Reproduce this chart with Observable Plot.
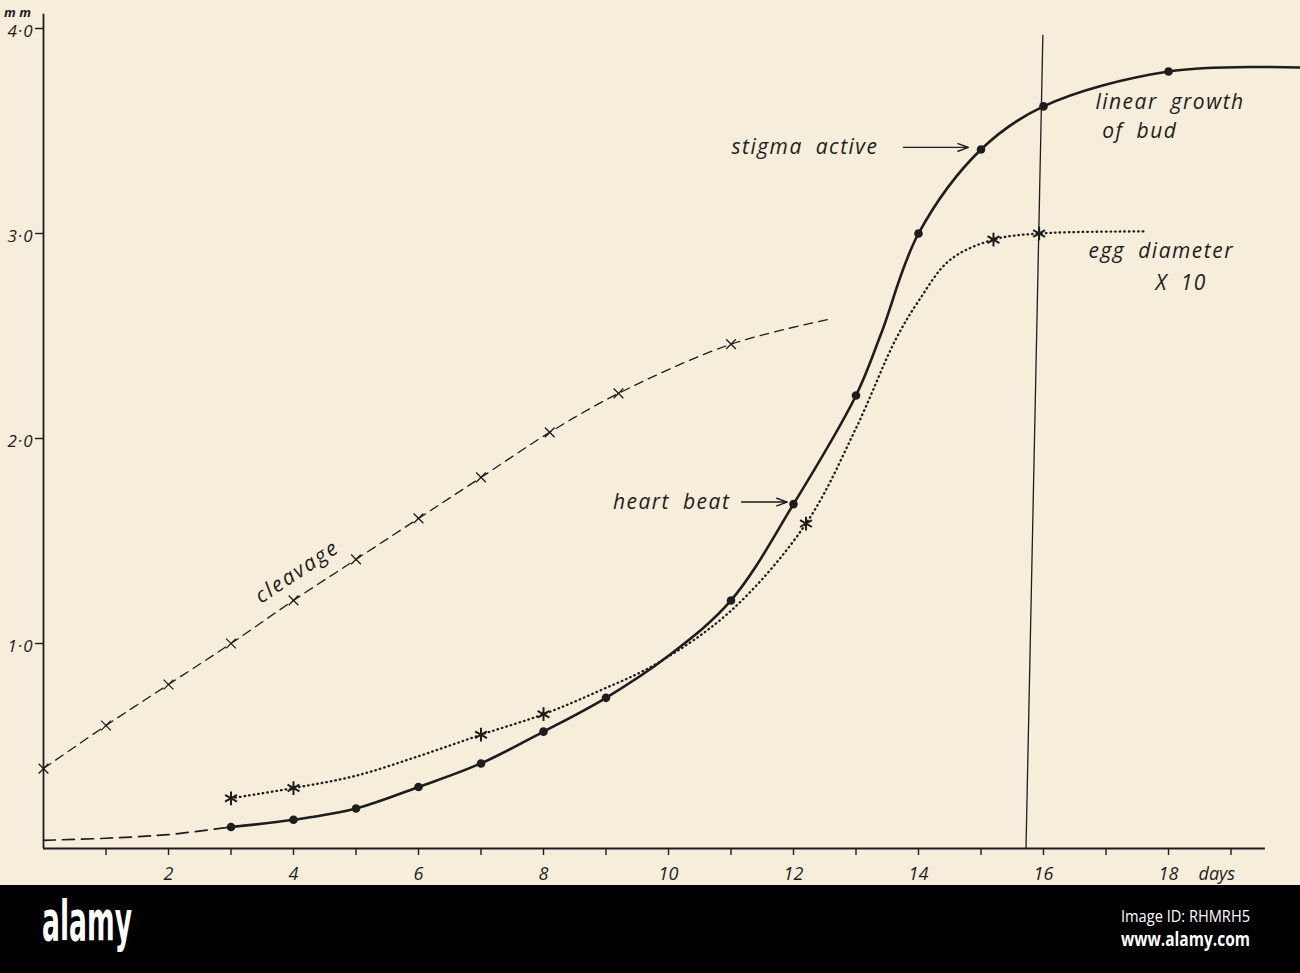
<!DOCTYPE html>
<html>
<head>
<meta charset="utf-8">
<script src="https://cdn.jsdelivr.net/npm/d3@7"></script>
<script src="https://cdn.jsdelivr.net/npm/@observablehq/plot@0.6"></script>
<style>
  html, body { margin: 0; padding: 0; background: #f6eedb; }
  #chart { width: 1300px; height: 885px; overflow: hidden; }
  #band { width: 1300px; height: 88px; background: #000; }
</style>
</head>
<body>
<div id="chart"></div>
<div id="band">
  <svg width="1300" height="88" xmlns="http://www.w3.org/2000/svg">
    <text x="42" y="55" fill="#fff" font-family="'DejaVu Sans Condensed','Liberation Sans Narrow','DejaVu Sans',sans-serif" font-weight="bold" font-size="56" textLength="90" lengthAdjust="spacingAndGlyphs">alamy</text>
    <text x="1250" y="37" fill="#fff" text-anchor="end" font-family="'Open Sans','DejaVu Sans',sans-serif" font-size="17" textLength="129" lengthAdjust="spacingAndGlyphs">Image ID: RHMRH5</text>
    <text x="1250" y="61" fill="#fff" text-anchor="end" font-family="'Open Sans','DejaVu Sans',sans-serif" font-weight="bold" font-size="19" textLength="129" lengthAdjust="spacingAndGlyphs">www.alamy.com</text>
  </svg>
</div>
<script>
// ---- data (days, mm) ----
// linear growth of bud (solid line, filled dots)
const budDays = [3, 4, 5, 6, 7, 8, 9, 11, 12, 13, 14, 15, 16, 18];
const budMM   = [0.105, 0.14, 0.195, 0.30, 0.415, 0.57, 0.735, 1.21, 1.68, 2.21, 3.0, 3.41, 3.62, 3.79];
// points (dots drawn only at budDays)
const budCurveDays = [3, 4, 5, 6, 7, 8, 9, 10, 11, 12, 13, 13.4, 14, 15, 16, 18, 20.11];
const budCurveMM   = [0.105, 0.14, 0.195, 0.30, 0.415, 0.57, 0.735, 0.94, 1.21, 1.68, 2.21, 2.51, 3.0, 3.41, 3.62, 3.79, 3.81];
// dashed lead-in of the bud curve
const leadDays = [0, 1, 2, 3];
const leadMM   = [0.04, 0.05, 0.068, 0.105];
// cleavage (dashed, x marks)
const cleavageDays = [0, 1, 2, 3, 4, 5, 6, 7, 8.1, 9.2, 11.0];
const cleavageMM   = [0.39, 0.60, 0.80, 1.00, 1.21, 1.41, 1.61, 1.81, 2.03, 2.22, 2.46];
const cleavageCurveDays = [0, 1, 2, 3, 4, 5, 6, 7, 8.1, 9.2, 11.0, 12.55];
const cleavageCurveMM   = [0.39, 0.60, 0.80, 1.00, 1.21, 1.41, 1.61, 1.81, 2.03, 2.22, 2.46, 2.58];
// egg diameter x 10 (dotted, asterisks)
const eggDays = [3, 4, 7, 8, 12.2, 15.2, 15.93];
const eggMM   = [0.245, 0.295, 0.555, 0.655, 1.585, 2.97, 3.0];
const eggCurveDays = [3, 4, 5, 6, 7, 8, 8.9, 9.8, 11, 12.2, 13, 13.63, 14, 14.5, 15.2, 15.93, 17.6];
const eggCurveMM   = [0.245, 0.295, 0.355, 0.45, 0.555, 0.655, 0.77, 0.9, 1.16, 1.585, 2.05, 2.48, 2.67, 2.87, 2.97, 3.0, 3.01];
// hand-drawn reference line (slightly slanted): bottom and top ends
const refLine = [{x1: 15.72, y1: 0, x2: 15.99, y2: 3.97}];
// axes
const xTickDays = [1,2,3,4,5,6,7,8,9,10,11,12,13,14,15,16,17,18,19];
const xLabelDays = [2, 4, 6, 8, 10, 12, 14, 16, 18];
const xLabelText = ["2", "4", "6", "8", "10", "12", "14", "16", "18"];
const yTickValues = [1, 2, 3, 4];
const yTickLabels = ["1·0", "2·0", "3·0", "4·0"];
const xAxisEnd = 19.55;
const yAxisTop = 4.07;
// annotations
const noteEndText  = ["stigma active", "heart beat"];
const noteEndDay   = [13.36, 10.99];
const noteEndMM    = [3.42, 1.69];
const noteStartText = ["linear growth", "of bud", "egg diameter", "X 10"];
const noteStartDay  = [16.83, 16.94, 16.72, 17.79];
const noteStartMM   = [3.64, 3.5, 2.915, 2.755];
const arrowFromDay = [13.76, 11.17];
const arrowToDay   = [14.80, 11.90];
const arrowMM      = [3.42, 1.69];

// ---- build tables ----
const zip = (xs, ys) => xs.map((x, i) => ({x, y: ys[i]}));
const bud = zip(budDays, budMM);
const budCurve = zip(budCurveDays, budCurveMM);
const lead = zip(leadDays, leadMM);
const cleav = zip(cleavageDays, cleavageMM);
const cleavCurve = zip(cleavageCurveDays, cleavageCurveMM);
const egg = zip(eggDays, eggMM);
const eggCurve = zip(eggCurveDays, eggCurveMM);
const notesEnd = noteEndText.map((t, i) => ({t, x: noteEndDay[i], y: noteEndMM[i]}));
const notesStart = noteStartText.map((t, i) => ({t, x: noteStartDay[i], y: noteStartMM[i]}));
const arrows = arrowFromDay.map((d, i) => ({x1: d, x2: arrowToDay[i], y: arrowMM[i]}));
const xLabels = xLabelDays.map((d, i) => ({x: d, t: xLabelText[i]}));
const yLabels = yTickValues.map((v, i) => ({y: v, t: yTickLabels[i]}));
const ink = "#1d1d1d";
const font = "'Open Sans', 'DejaVu Sans', sans-serif";

const chart = Plot.plot({
  width: 1300,
  height: 885,
  marginLeft: 43,
  marginRight: 7,
  marginTop: 28,
  marginBottom: 37,
  x: {domain: [0, 20], axis: null},
  y: {domain: [0, 4], axis: null},
  style: {background: "transparent", fontFamily: font, color: ink, overflow: "visible"},
  marks: [
    // axes lines and ticks
    Plot.ruleX([0], {y1: 0, y2: yAxisTop, stroke: ink, strokeWidth: 1.8}),
    Plot.ruleY([0], {x1: 0, x2: xAxisEnd, stroke: ink, strokeWidth: 1.8}),
    Plot.axisY({ticks: yTickValues, tickSize: 8, stroke: ink, strokeWidth: 1.4, tickFormat: () => "", label: null}),
    Plot.axisX({ticks: xTickDays, tickSize: 7, stroke: ink, strokeWidth: 1.4, tickFormat: () => "", label: null}),
    Plot.text(yLabels, {x: 0, y: "y", text: "t", dx: -10, dy: 3, textAnchor: "end", fontSize: 17, fontStyle: "italic", fill: ink}),
    Plot.text(xLabels, {x: "x", y: 0, text: "t", dy: 26, fontSize: 18, fontStyle: "italic", fill: ink}),
    Plot.text(["days"], {x: 18.48, y: 0, dy: 26, textAnchor: "start", fontSize: 18, fontStyle: "italic", fill: ink}),
    Plot.text(["m m"], {frameAnchor: "top-left", dx: -26, dy: -21, textAnchor: "middle", fontSize: 13, fontStyle: "italic", fontWeight: "bold", fill: ink}),
    // reference line
    Plot.link(refLine, {x1: "x1", y1: "y1", x2: "x2", y2: "y2", stroke: ink, strokeWidth: 1.3}),
    // cleavage
    Plot.line(cleavCurve, {x: "x", y: "y", curve: "catmull-rom", stroke: ink, strokeWidth: 1.3, strokeDasharray: "9,6"}),
    Plot.dot(cleav, {x: "x", y: "y", symbol: "times", r: 4.5, stroke: ink, strokeWidth: 1.3, fill: "none"}),
    // bud lead-in
    Plot.line(lead, {x: "x", y: "y", curve: "catmull-rom", stroke: ink, strokeWidth: 1.7, strokeDasharray: "12,7"}),
    // egg diameter
    Plot.line(eggCurve, {x: "x", y: "y", curve: "catmull-rom", stroke: ink, strokeWidth: 2.3, strokeDasharray: "0.6,4", strokeLinecap: "round"}),
    Plot.dot(egg, {x: "x", y: "y", symbol: "asterisk", r: 6.5, stroke: ink, strokeWidth: 2}),
    // bud growth
    Plot.line(budCurve, {x: "x", y: "y", curve: "catmull-rom", stroke: ink, strokeWidth: 2.6}),
    Plot.dot(bud, {x: "x", y: "y", r: 4.3, fill: ink, stroke: "none"}),
    // arrows
    Plot.arrow(arrows, {x1: "x1", x2: "x2", y1: "y", y2: "y", stroke: ink, strokeWidth: 1.4, headLength: 12, headAngle: 40}),
    // annotations
    Plot.text(notesEnd, {x: "x", y: "y", text: "t", textAnchor: "end", fontSize: 21, fontStyle: "italic", fill: ink}),
    Plot.text(notesStart, {x: "x", y: "y", text: "t", textAnchor: "start", fontSize: 21, fontStyle: "italic", fill: ink}),
    Plot.text(["cleavage"], {x: 4.06, y: 1.35, rotate: -33.5, fontSize: 21, fontStyle: "italic", fill: ink})
  ]
});
// wide hand-lettered spacing of the annotations
const spaced = new Set([...noteEndText, ...noteStartText]);
d3.select(chart).selectAll("text").each(function () {
  const s = this.textContent;
  if (spaced.has(s)) { this.style.letterSpacing = "1.5px"; this.style.wordSpacing = "6px"; }
  if (s === "cleavage") { this.style.letterSpacing = "2px"; }
  if (yTickLabels.includes(s)) { this.style.letterSpacing = "1px"; }
});
document.getElementById("chart").appendChild(chart);
</script>
</body>
</html>
